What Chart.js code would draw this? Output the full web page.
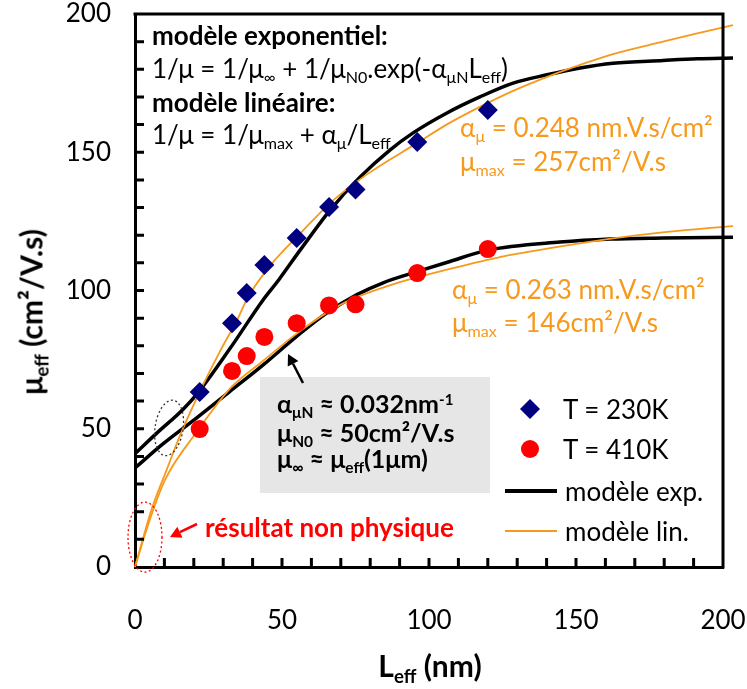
<!DOCTYPE html>
<html>
<head>
<meta charset="utf-8">
<script src="https://cdn.jsdelivr.net/npm/chart.js@4.4.1/dist/chart.umd.min.js"></script>
<style>
  body { margin: 0; background: #fff; }
  #wrap { position: relative; width: 747px; height: 689px; font-family: Lato, 'Open Sans', sans-serif; color: #000; }
  #chart { position: absolute; left: 0; top: 0; }
  .t { position: absolute; white-space: nowrap; line-height: 32px; height: 32px; font-size: 26px; }
  .b { font-weight: bold; }
  .s { font-size: 0.62em; position: relative; top: 0.3em; }
  .u { font-size: 0.6em; position: relative; top: -0.55em; }
  .o { color: #F7991C; }
  .r { color: #FF0000; }
  #box { position: absolute; left: 260px; top: 377px; width: 230px; height: 116px; background: #E6E6E6; }
  #ytitle { position: absolute; left: 33px; top: 312px; transform: translate(-50%, -50%) rotate(-90deg); white-space: nowrap; font-size: 30px; font-weight: bold; line-height: 34px; }
  #xtitle { position: absolute; left: 430px; top: 667px; transform: translate(-50%, -50%); white-space: nowrap; font-size: 30px; font-weight: bold; line-height: 34px; }
</style>
</head>
<body>
<div id="wrap">
  <div id="box"></div>
  <canvas id="chart" width="747" height="689"></canvas>

  <div class="t b" style="left:152px; top:19px">modèle exponentiel:</div>
  <div class="t" style="left:152px; top:52px">1/μ = 1/μ<span class="s">∞</span> + 1/μ<span class="s">N0</span>.exp(-α<span class="s">μN</span>L<span class="s">eff</span>)</div>
  <div class="t b" style="left:152px; top:86px">modèle linéaire:</div>
  <div class="t" style="left:152px; top:118px">1/μ = 1/μ<span class="s">max</span> + α<span class="s">μ</span>/L<span class="s">eff</span></div>

  <div class="t o" style="left:460px; top:111px">α<span class="s">μ</span> = 0.248 nm.V.s/cm²</div>
  <div class="t o" style="left:460px; top:145px">μ<span class="s">max</span> = 257cm²/V.s</div>
  <div class="t o" style="left:452px; top:273px">α<span class="s">μ</span> = 0.263 nm.V.s/cm²</div>
  <div class="t o" style="left:452px; top:306px">μ<span class="s">max</span> = 146cm²/V.s</div>

  <div class="t b" style="left:277px; top:387px; font-size:25px">α<span class="s">μN</span> ≈ 0.032nm<span class="u">-1</span></div>
  <div class="t b" style="left:277px; top:416px; font-size:25px">μ<span class="s">N0</span> ≈ 50cm²/V.s</div>
  <div class="t b" style="left:277px; top:442px; font-size:25px">μ<span class="s">∞</span> ≈ μ<span class="s">eff</span>(1μm)</div>

  <div class="t b r" style="left:205px; top:511px">résultat non physique</div>

  <div class="t" style="left:563px; top:393px">T = 230K</div>
  <div class="t" style="left:563px; top:433px">T = 410K</div>
  <div class="t" style="left:565px; top:475px">modèle exp.</div>
  <div class="t" style="left:565px; top:515px">modèle lin.</div>

  <div id="ytitle">μ<span class="s">eff</span> (cm²/V.s)</div>
  <div id="xtitle">L<span class="s">eff</span> (nm)</div>
</div>
<script>
// measured points (same gate lengths at both temperatures)
const lengths = [22, 33, 38, 44, 55, 66, 75, 96, 120];
const mu230 = [63.3, 88.2, 99.1, 109.2, 119.0, 130.2, 136.5, 153.7, 165.3];
const mu410 = [49.9, 70.9, 76.3, 83.2, 88.2, 94.6, 95.0, 106.3, 115.0];

// exponential model curves
const expX230 = [0, 7.5, 16.3, 21.4, 32.3, 43.5, 49, 56.1, 66.3, 76.5, 86.7, 94.6, 106.1, 117.3, 128.6, 140.1, 151.4, 162.6, 179.6, 191.2, 203.4];
const expY230 = [41, 48.5, 57, 63, 79, 96.5, 104, 114.5, 129, 141, 150.8, 157, 164.2, 170, 175, 178, 180.5, 182.2, 183.2, 183.8, 184.1];
const expX410 = [0, 9.5, 21.1, 32.3, 43.5, 55.1, 65.3, 75.5, 84.4, 95.9, 107.1, 119.7, 144.6, 161.6, 179.6, 203.4];
const expY410 = [35.8, 44.5, 54, 63.5, 73, 83.5, 91.9, 98.5, 102.8, 106.8, 110.5, 114.5, 117.5, 118.6, 119, 119.3];

// linear model curves
const linX230 = [0, 5.8, 10.9, 15.3, 21.4, 28.9, 34.7, 38.4, 46, 56.1, 67.3, 78.9, 95.9, 106, 117.3, 128.6, 140, 151.4, 162.6, 179.6, 191.2, 203.4];
const linY230 = [0, 21.3, 35.5, 47.5, 62, 78, 89.3, 97.5, 109, 120.5, 132.5, 142, 153.3, 160, 166.4, 172.2, 177.2, 181.6, 185.5, 190, 193, 196];
const linX410 = [0, 5, 10.2, 21.1, 32.3, 43.5, 55.1, 65.3, 73.1, 90.1, 107.1, 124.1, 141.2, 163.9, 181, 203.4];
const linY410 = [0, 17, 31.5, 49, 64.5, 74.5, 84.5, 92, 96.5, 103, 107.8, 112.1, 115.3, 119, 121.2, 123.3];

const xTicks = [0, 50, 100, 150, 200];
const yTicks = [0, 50, 100, 150, 200];
const minorStep = 10;

function pts(xs, ys) {
    return xs.map((v, i) => ({x: v, y: ys[i]}));
}

const navy = '#000080';
const red = '#FF0000';
const orange = '#F7991C';

const decor = {
    id: 'decor',
    afterDraw(chart) {
        const {ctx, chartArea: a, scales: {x, y}} = chart;
        ctx.save();
        // top and right frame
        ctx.strokeStyle = '#000';
        ctx.lineWidth = 3;
        ctx.beginPath();
        ctx.moveTo(a.left - 1.5, a.top);
        ctx.lineTo(a.right, a.top);
        ctx.lineTo(a.right, a.bottom + 1.5);
        ctx.stroke();
        // inward tick marks
        ctx.lineWidth = 3;
        for (let v = minorStep; v < 200; v += minorStep) {
            const px = x.getPixelForValue(v), py = y.getPixelForValue(v);
            ctx.beginPath();
            ctx.moveTo(px, a.bottom); ctx.lineTo(px, a.bottom - 9);
            ctx.moveTo(a.left, py); ctx.lineTo(a.left + 9, py);
            ctx.stroke();
        }

        // dotted ellipses
        ctx.lineWidth = 1.3;
        ctx.setLineDash([2, 2.5]);
        ctx.strokeStyle = red;
        ctx.beginPath();
        ctx.ellipse(x.getPixelForValue(3.4), y.getPixelForValue(10.8), 17, 35, 0, 0, Math.PI * 2);
        ctx.stroke();
        ctx.strokeStyle = '#333';
        ctx.beginPath();
        ctx.ellipse(x.getPixelForValue(11.6), y.getPixelForValue(50.3), 14, 28, 0.15, 0, Math.PI * 2);
        ctx.stroke();
        ctx.setLineDash([]);

        // arrows
        arrow(ctx, 303, 383, 288, 354, '#000');
        arrow(ctx, 197, 524, 170, 537, red);

        // legend symbols
        ctx.fillStyle = navy;
        ctx.beginPath();
        ctx.moveTo(530, 399); ctx.lineTo(540, 409); ctx.lineTo(530, 419); ctx.lineTo(520, 409);
        ctx.closePath(); ctx.fill();
        ctx.fillStyle = red;
        ctx.beginPath();
        ctx.arc(530, 449, 9, 0, Math.PI * 2);
        ctx.fill();
        ctx.strokeStyle = '#000'; ctx.lineWidth = 4;
        ctx.beginPath(); ctx.moveTo(505, 491); ctx.lineTo(557, 491); ctx.stroke();
        ctx.strokeStyle = orange; ctx.lineWidth = 2;
        ctx.beginPath(); ctx.moveTo(505, 531); ctx.lineTo(557, 531); ctx.stroke();
        ctx.restore();
    }
};

function arrow(ctx, x0, y0, x1, y1, col) {
    const ang = Math.atan2(y1 - y0, x1 - x0);
    const hl = 11, hw = 6;
    const bx = x1 - hl * Math.cos(ang), by = y1 - hl * Math.sin(ang);
    ctx.strokeStyle = col; ctx.fillStyle = col; ctx.lineWidth = 2.5;
    ctx.beginPath(); ctx.moveTo(x0, y0); ctx.lineTo(bx, by); ctx.stroke();
    ctx.beginPath();
    ctx.moveTo(x1, y1);
    ctx.lineTo(bx + hw * Math.sin(ang), by - hw * Math.cos(ang));
    ctx.lineTo(bx - hw * Math.sin(ang), by + hw * Math.cos(ang));
    ctx.closePath(); ctx.fill();
}

const lineDs = (data, col, w) => ({
    type: 'line', data, borderColor: col, borderWidth: w, pointRadius: 0,
    fill: false, clip: false, cubicInterpolationMode: 'monotone', showLine: true
});

new Chart('chart', {
    type: 'scatter',
    data: {
        datasets: [
            {label: 'T = 230K', data: pts(lengths, mu230), pointStyle: 'rectRot', pointRadius: 10,
             backgroundColor: navy, borderColor: navy, borderWidth: 0},
            {label: 'T = 410K', data: pts(lengths, mu410), pointStyle: 'circle', pointRadius: 9,
             backgroundColor: red, borderColor: red, borderWidth: 0},
            lineDs(pts(linX230, linY230), orange, 1.8),
            lineDs(pts(linX410, linY410), orange, 1.8),
            lineDs(pts(expX230, expY230), '#000', 3.5),
            lineDs(pts(expX410, expY410), '#000', 3.5)
        ]
    },
    options: {
        responsive: false,
        animation: false,
        layout: {padding: {top: 14, right: 24, left: 0, bottom: 0}},
        plugins: {legend: {display: false}, tooltip: {enabled: false}},
        scales: {
            x: {
                type: 'linear', min: 0, max: 200,
                afterFit: s => { s.height = 122; s.paddingLeft = 0; s.paddingRight = 0; },
                afterBuildTicks: s => { s.ticks = xTicks.map(v => ({value: v})); },
                grid: {display: false, drawTicks: false},
                border: {display: true, color: '#000', width: 3},
                ticks: {color: '#000', font: {family: 'Lato', size: 26}, padding: 38, maxRotation: 0}
            },
            y: {
                type: 'linear', min: 0, max: 200,
                afterFit: s => { s.width = 135; s.paddingTop = 0; s.paddingBottom = 0; },
                afterBuildTicks: s => { s.ticks = yTicks.map(v => ({value: v})); },
                grid: {display: false, drawTicks: false},
                border: {display: true, color: '#000', width: 3},
                ticks: {color: '#000', font: {family: 'Lato', size: 26}, padding: 24}
            }
        }
    },
    plugins: [decor]
});
</script>
</body>
</html>
